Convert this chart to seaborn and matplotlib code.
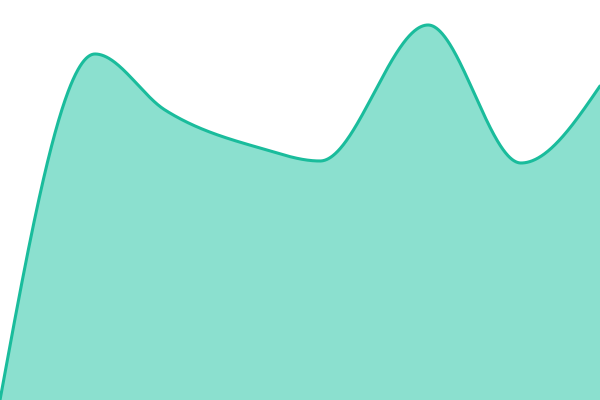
import numpy as np
import pandas as pd
import matplotlib
matplotlib.use('Agg')
import matplotlib.pyplot as plt
import seaborn as sns

# data (x position, value)
xs = [0, 95, 165, 260, 320, 428, 521, 600]
values = [0, 346, 290, 252, 239, 375, 237, 314]

line_color = '#1abc9c'
fill_color = '#8be0cf'


def monotone(x, y, n=1200):
    # monotone cubic smoothing of the line (same idea as d3 curveMonotoneX)
    x = np.asarray(x, float)
    y = np.asarray(y, float)
    h = np.diff(x)
    s = np.diff(y) / h
    m = np.zeros_like(y)
    for i in range(1, len(y) - 1):
        if s[i - 1] * s[i] <= 0:
            m[i] = 0
        else:
            p = (s[i - 1] * h[i] + s[i] * h[i - 1]) / (h[i - 1] + h[i])
            m[i] = (np.sign(s[i - 1]) + np.sign(s[i])) * min(abs(s[i - 1]), abs(s[i]), 0.5 * abs(p))
    m[0] = (3 * s[0] - m[1]) / 2
    m[-1] = (3 * s[-1] - m[-2]) / 2
    xx = np.linspace(x[0], x[-1], n)
    idx = np.clip(np.searchsorted(x, xx) - 1, 0, len(h) - 1)
    t = (xx - x[idx]) / h[idx]
    h00 = 2 * t**3 - 3 * t**2 + 1
    h10 = t**3 - 2 * t**2 + t
    h01 = -2 * t**3 + 3 * t**2
    h11 = t**3 - t**2
    yy = h00 * y[idx] + h10 * h[idx] * m[idx] + h01 * y[idx + 1] + h11 * h[idx] * m[idx + 1]
    return xx, yy


sx, sy = monotone(xs, values)
df = pd.DataFrame({'x': sx, 'y': sy})

sns.set_style('white')
fig = plt.figure(figsize=(6, 4), dpi=100)
ax = fig.add_axes([0, 0, 1, 1])
ax.fill_between(df['x'], df['y'], 0, color=fill_color, linewidth=0)
sns.lineplot(data=df, x='x', y='y', ax=ax, color=line_color, linewidth=2.2, sort=False)
ax.set_xlim(0, 600)
ax.set_ylim(0, 400)
ax.axis('off')
plt.savefig('out.png', dpi=100)
